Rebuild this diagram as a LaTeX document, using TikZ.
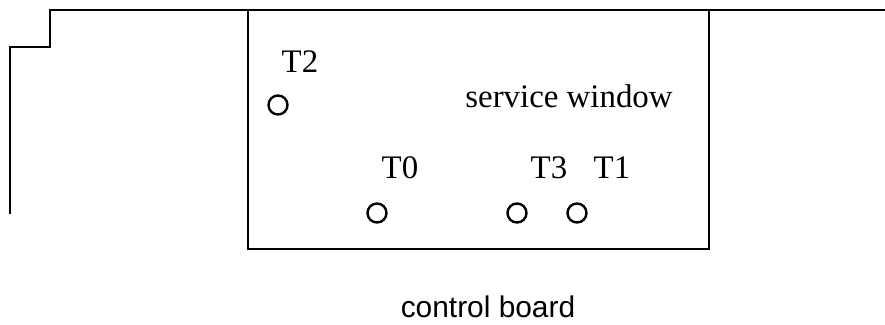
\documentclass[tikz,border=0pt]{standalone}
\usepackage{fontspec}
\setmainfont{Liberation Serif}
\setsansfont{Liberation Sans}
\tikzstyle{port}=[circle,draw,line width=2.4bp,minimum size=19bp,inner sep=0pt]
\tikzstyle{portlabel}=[anchor=base,inner sep=0pt,font=\fontsize{33}{38}\selectfont]
\tikzstyle{wall}=[line width=2.8bp]
\begin{document}
\begin{tikzpicture}[x=1bp,y=-1bp]
    \useasboundingbox (0,0) rectangle (885,324);
    \draw[wall] (885,10) -- (50,10) -- (50,47) -- (10,47) -- (10,214);
    \draw[wall] (248,10) rectangle (709,249);
    \node[port] (t2) at (278,105) {};
    \node[port] (t0) at (377,213) {};
    \node[port] (t3) at (517,213) {};
    \node[port] (t1) at (577,213) {};
    \foreach \p/\x/\y in {T2/300/72,T0/400/178,T3/549/178,T1/612/178}
    \node[portlabel] (l\p) at (\x,\y) {\p};
    \node[portlabel] (window) at (569,107) {service window};
    \node[anchor=base,inner sep=0pt,font=\sffamily\fontsize{30}{36}\selectfont] (board) at (488,317) {control board};
\end{tikzpicture}
\end{document}
